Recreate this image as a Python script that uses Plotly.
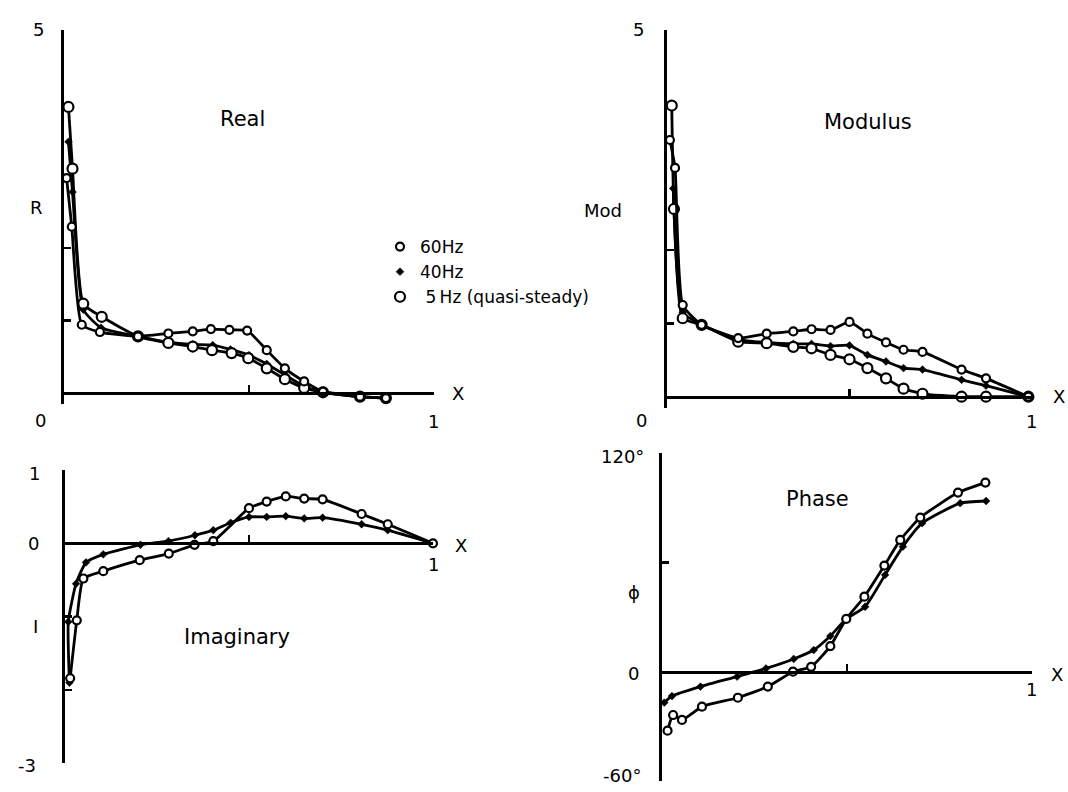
import plotly.graph_objects as go

W, H = 1068, 792
OFF = 0  # body margin removed by post_script below

# ---------------- data ----------------
# Real part R
real_60_x = [0.007, 0.021, 0.048, 0.097, 0.20, 0.282, 0.348, 0.397, 0.447, 0.495, 0.548, 0.597, 0.649, 0.70, 0.80, 0.87]
real_60_y = [2.96, 2.29, 0.94, 0.84, 0.78, 0.82, 0.85, 0.88, 0.87, 0.86, 0.59, 0.34, 0.16, 0.02, -0.05, -0.07]
real_40_x = [0.012, 0.023, 0.052, 0.10, 0.20, 0.282, 0.348, 0.402, 0.45, 0.50, 0.548, 0.60, 0.65, 0.70, 0.80, 0.87]
real_40_y = [3.46, 2.77, 1.15, 0.90, 0.78, 0.70, 0.67, 0.66, 0.60, 0.52, 0.40, 0.24, 0.09, 0.02, -0.05, -0.07]
real_5_x = [0.012, 0.023, 0.052, 0.102, 0.20, 0.282, 0.348, 0.40, 0.453, 0.498, 0.548, 0.597, 0.649, 0.70, 0.80, 0.87]
real_5_y = [3.94, 3.09, 1.23, 1.05, 0.78, 0.69, 0.64, 0.59, 0.55, 0.48, 0.34, 0.19, 0.07, 0.01, -0.05, -0.07]

# Modulus
mod_60_x = [0.008, 0.022, 0.043, 0.095, 0.195, 0.273, 0.346, 0.396, 0.448, 0.50, 0.549, 0.60, 0.648, 0.70, 0.807, 0.874, 0.99]
mod_60_y = [3.50, 3.12, 1.25, 0.98, 0.80, 0.86, 0.89, 0.92, 0.91, 1.02, 0.86, 0.74, 0.64, 0.61, 0.37, 0.25, 0.0]
mod_40_x = [0.017, 0.043, 0.095, 0.195, 0.273, 0.346, 0.396, 0.448, 0.50, 0.549, 0.60, 0.648, 0.70, 0.807, 0.874, 0.99]
mod_40_y = [2.84, 1.15, 0.98, 0.78, 0.74, 0.72, 0.72, 0.69, 0.70, 0.57, 0.48, 0.39, 0.37, 0.23, 0.15, 0.0]
mod_5_x = [0.013, 0.019, 0.043, 0.095, 0.195, 0.273, 0.346, 0.396, 0.448, 0.50, 0.549, 0.60, 0.648, 0.70, 0.807, 0.874, 0.99]
mod_5_y = [3.97, 2.56, 1.07, 0.98, 0.75, 0.73, 0.68, 0.66, 0.57, 0.51, 0.39, 0.25, 0.11, 0.04, 0.0, 0.0, 0.0]

# Imaginary part I
imag_60_x = [0.014, 0.032, 0.05, 0.104, 0.203, 0.282, 0.352, 0.403, 0.50, 0.548, 0.60, 0.65, 0.70, 0.806, 0.877, 1.0]
imag_60_y = [-1.84, -1.05, -0.48, -0.38, -0.23, -0.14, -0.02, 0.03, 0.48, 0.57, 0.64, 0.61, 0.60, 0.40, 0.26, 0.0]
imag_40_x = [0.012, 0.009, 0.03, 0.057, 0.104, 0.205, 0.281, 0.353, 0.403, 0.45, 0.50, 0.548, 0.60, 0.65, 0.70, 0.806, 0.877, 1.0]
imag_40_y = [-1.90, -1.07, -0.55, -0.26, -0.15, -0.02, 0.03, 0.11, 0.18, 0.28, 0.36, 0.36, 0.37, 0.34, 0.35, 0.26, 0.18, 0.0]

# Phase phi (degrees)
phase_60_x = [0.015, 0.03, 0.054, 0.108, 0.205, 0.286, 0.354, 0.403, 0.455, 0.498, 0.547, 0.601, 0.644, 0.698, 0.80, 0.874]
phase_60_y = [-32.4, -23.8, -26.5, -19.2, -14.3, -8.2, 0.0, 2.7, 14.1, 29.0, 41.2, 58.3, 72.4, 84.7, 98.4, 103.9]
phase_40_x = [0.006, 0.027, 0.104, 0.203, 0.281, 0.356, 0.41, 0.455, 0.498, 0.549, 0.603, 0.651, 0.703, 0.806, 0.876]
phase_40_y = [-17.0, -13.4, -8.2, -2.7, 1.8, 7.0, 11.9, 19.6, 29.0, 35.7, 53.2, 68.7, 81.6, 92.6, 93.8]

legend_names = ["60Hz", "40Hz", "\u00a05\u2009Hz (quasi-steady)"]

# ---------------- styles ----------------
FONT = "DejaVu Sans, sans-serif"
LINE = dict(color="black", width=2.8, shape="spline", smoothing=0.5)
M60 = dict(symbol="circle", size=8, color="white", line=dict(color="black", width=2.2))
M40 = dict(symbol="diamond", size=6, color="black", line=dict(color="black", width=0.5))
M5 = dict(symbol="circle", size=10, color="white", line=dict(color="black", width=2.2))


def py2paper(py):
    return 1 - (py - OFF) / H


def px2paper(px):
    return (px - OFF) / W


fig = go.Figure()

panels = [
    ("x", "y", [(real_40_x, real_40_y, M40), (real_5_x, real_5_y, M5), (real_60_x, real_60_y, M60)]),
    ("x2", "y2", [(mod_40_x, mod_40_y, M40), (mod_5_x, mod_5_y, M5), (mod_60_x, mod_60_y, M60)]),
    ("x3", "y3", [(imag_40_x, imag_40_y, M40), (imag_60_x, imag_60_y, M60)]),
    ("x4", "y4", [(phase_40_x, phase_40_y, M40), (phase_60_x, phase_60_y, M60)]),
]

for xa, ya, series in panels:
    for sx, sy, mk in series:
        fig.add_trace(go.Scatter(x=sx, y=sy, xaxis=xa, yaxis=ya, mode="lines+markers",
                                 line=LINE, marker=mk, showlegend=False,
                                 cliponaxis=False, hoverinfo="skip"))

# legend-only traces
for name, mk in zip(legend_names, [M60, M40, M5]):
    fig.add_trace(go.Scatter(x=[None], y=[None], mode="markers", marker=mk, name=name,
                             showlegend=True))

# ---------------- axes geometry (pixels in the screenshot) ----------------
geo = {
    1: dict(x0=64, x1=434, ytop=30, ybot=403.9, yr=[-0.15, 5], xpos=393, yt=[1, 2, 5]),
    2: dict(x0=667, x1=1032, ytop=30, ybot=407.7, yr=[-0.15, 5], xpos=396.7, yt=[1, 2, 5]),
    3: dict(x0=65, x1=433, ytop=470, ybot=763.3, yr=[-3, 1], xpos=543.3, yt=[-3, -2, -1, 1]),
    4: dict(x0=662, x1=1032, ytop=453.3, ybot=780.9, yr=[-60, 120], xpos=671.7, yt=[-60, 60, 120]),
}

axis_common = dict(showgrid=False, zeroline=False, showline=True, linecolor="black",
                   linewidth=2.8, ticks="inside", ticklen=7, tickwidth=2.4,
                   tickcolor="black", showticklabels=False, fixedrange=True)

layout = {}
for i, g in geo.items():
    sfx = "" if i == 1 else str(i)
    layout["xaxis" + sfx] = dict(axis_common, domain=[px2paper(g["x0"]), px2paper(g["x1"])],
                                 range=[0, 1], anchor="free", position=py2paper(g["xpos"]),
                                 side="bottom", tickvals=[0.5, 1])
    layout["yaxis" + sfx] = dict(axis_common, domain=[py2paper(g["ybot"]), py2paper(g["ytop"])],
                                 range=g["yr"], anchor="x" + sfx, tickvals=g["yt"])

fig.update_layout(**layout)

# ---------------- text labels ----------------
NUM = 18
TTL = 21
labels = [
    # panel 1
    ("5", 38, 30, NUM), ("0", 40, 420, NUM), ("1", 433, 421, NUM), ("X", 458, 393, NUM),
    ("R", 36, 207, NUM), ("Real", 242, 119, TTL),
    # panel 2
    ("5", 638, 30, NUM), ("0", 641, 420, NUM), ("1", 1031, 421, NUM), ("X", 1059, 396, NUM),
    ("Mod", 603, 210, NUM), ("Modulus", 868, 122, TTL),
    # panel 3
    ("1", 34, 473, NUM), ("0", 33, 543, NUM), ("-3", 27, 765, NUM), ("I", 35, 626, NUM),
    ("Imaginary", 237, 637, TTL), ("1", 433, 564, NUM), ("X", 461, 545, NUM),
    # panel 4
    ("120°", 622, 456, NUM), ("0", 633, 673, NUM), ("-60°", 622, 775, NUM), ("ϕ", 634, 592, NUM),
    ("Phase", 817, 499, TTL), ("1", 1031, 689, NUM), ("X", 1057, 674, NUM),
]
ann = []
for t, x, y, s in labels:
    ann.append(dict(text=t, x=px2paper(x), y=py2paper(y), xref="paper", yref="paper",
                    showarrow=False, xanchor="center", yanchor="middle",
                    font=dict(family=FONT, size=s, color="black")))

fig.update_layout(
    width=W, height=H, margin=dict(l=0, r=0, t=0, b=0),
    paper_bgcolor="white", plot_bgcolor="white",
    annotations=ann,
    font=dict(family=FONT, size=17, color="black"),
    legend=dict(x=px2paper(380), y=py2paper(229), xanchor="left", yanchor="top",
                bgcolor="rgba(0,0,0,0)", font=dict(family=FONT, size=17),
                itemwidth=30, tracegroupgap=0),
)

fig.write_html(
    "out.html",
    config={"displayModeBar": False, "staticPlot": True},
    post_script="document.body.style.margin='0';document.documentElement.style.overflow='hidden';",
)
